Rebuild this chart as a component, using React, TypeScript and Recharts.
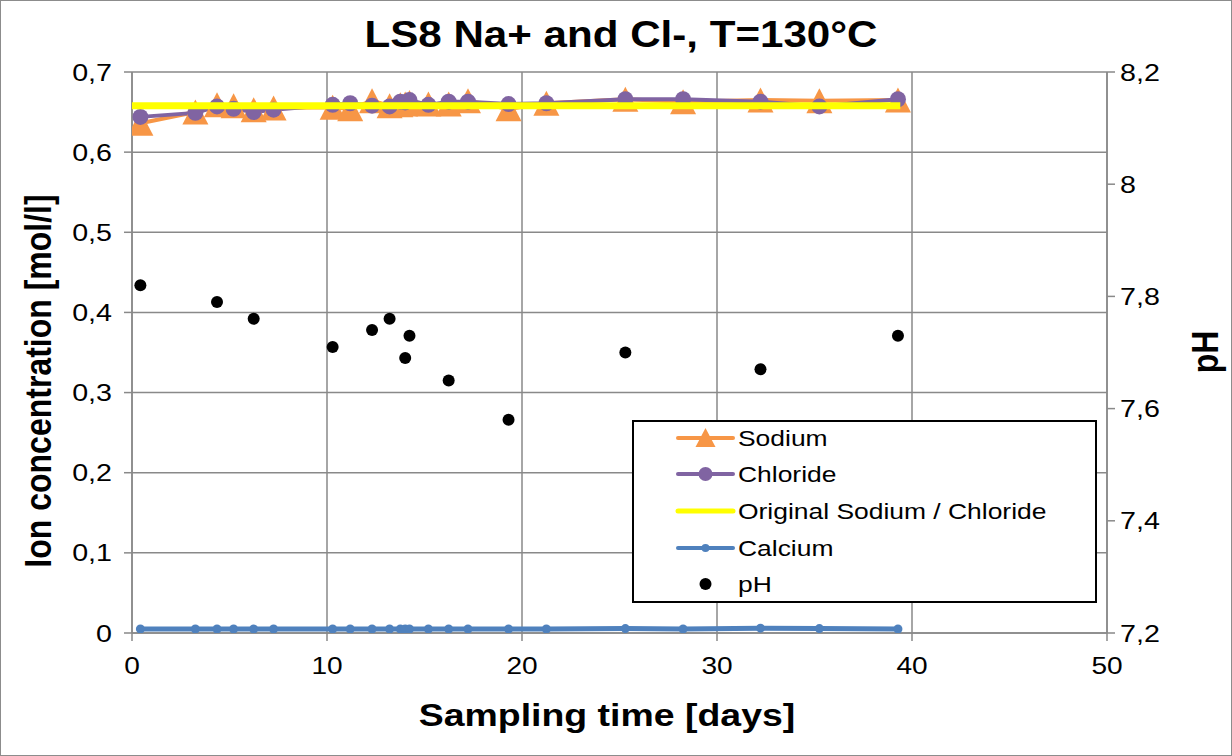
import React from 'react';
import { ComposedChart, Line, Scatter, XAxis, YAxis, CartesianGrid, Legend } from 'recharts';

const days = [0.43, 3.25, 4.36, 5.21, 6.24, 7.26, 10.29, 11.19, 12.31, 13.21, 13.76, 14.01, 14.23, 15.2, 16.24, 17.23, 19.31, 21.25, 25.3, 28.26, 32.23, 35.25, 39.28];
const sodium = [0.636, 0.65, 0.659, 0.658, 0.653, 0.655, 0.656, 0.654, 0.664, 0.658, 0.659, 0.66, 0.662, 0.66, 0.66, 0.664, 0.654, 0.661, 0.666, 0.663, 0.665, 0.664, 0.665];
const chloride = [0.644, 0.649, 0.657, 0.654, 0.65, 0.653, 0.659, 0.661, 0.658, 0.657, 0.663, 0.662, 0.665, 0.659, 0.663, 0.663, 0.66, 0.661, 0.666, 0.666, 0.663, 0.657, 0.666];
const calcium = [0.005, 0.005, 0.005, 0.005, 0.005, 0.005, 0.005, 0.005, 0.005, 0.005, 0.005, 0.005, 0.005, 0.005, 0.005, 0.005, 0.005, 0.005, 0.0055, 0.005, 0.006, 0.0055, 0.005];
const originalDays = [0, 39.4];
const originalValues = [0.658, 0.658];
const phDays = [0.43, 4.36, 6.24, 10.29, 12.31, 13.21, 14.01, 14.23, 16.24, 19.31, 25.3, 32.23, 39.28];
const phValues = [7.82, 7.79, 7.76, 7.71, 7.74, 7.76, 7.69, 7.73, 7.65, 7.58, 7.7, 7.67, 7.73];

const xTicks = [0, 10, 20, 30, 40, 50];
const leftTicks = [0, 0.1, 0.2, 0.3, 0.4, 0.5, 0.6, 0.7];
const rightTicks = [7.2, 7.4, 7.6, 7.8, 8, 8.2];

const title = 'LS8 Na+ and Cl-, T=130°C';
const xTitle = 'Sampling time [days]';
const yTitle = 'Ion concentration [mol/l]';
const y2Title = 'pH';

const seriesNames = ['Sodium', 'Chloride', 'Original Sodium / Chloride', 'Calcium', 'pH'];
const C_NA = '#F79646';
const C_CL = '#8064A2';
const C_OR = '#FFFF00';
const C_CA = '#4F81BD';
const C_PH = '#000000';
const GRID = '#898989';
const FONT = '"Liberation Sans", Arial, sans-serif';
const SX = 1.17;

const sodiumData = days.map((d, i) => ({ x: d, y: sodium[i] }));
const chlorideData = days.map((d, i) => ({ x: d, y: chloride[i] }));
const calciumData = days.map((d, i) => ({ x: d, y: calcium[i] }));
const originalData = originalDays.map((d, i) => ({ x: d, y: originalValues[i] }));
const phData = phDays.map((d, i) => ({ x: d, y: phValues[i] }));

const fmt = (v: number) => (Number.isInteger(v) ? String(v) : v.toFixed(1).replace('.', ','));

const XTick = (p: any) => (
  <text transform={`translate(${p.x},${p.y + 31}) scale(${SX},1)`} textAnchor="middle" fontSize={24} fontFamily={FONT} fill="#000">
    {fmt(p.payload.value)}
  </text>
);
const LTick = (p: any) => (
  <text transform={`translate(${p.x - 10},${p.y + 8.5}) scale(${SX},1)`} textAnchor="end" fontSize={24.5} fontFamily={FONT} fill="#000">
    {fmt(p.payload.value)}
  </text>
);
const RTick = (p: any) => (
  <text transform={`translate(${p.x + 3},${p.y + 8.5}) scale(${SX},1)`} textAnchor="start" fontSize={24.5} fontFamily={FONT} fill="#000">
    {fmt(p.payload.value)}
  </text>
);

const Tri = (p: any) => {
  const { cx, cy, index } = p;
  if (cx == null || cy == null) return <g key={`t${index}`} />;
  return <path key={`t${index}`} d={`M${cx},${cy - 12.5} L${cx + 13},${cy + 12.5} L${cx - 13},${cy + 12.5} Z`} fill={C_NA} />;
};
const ClDot = (p: any) => {
  const { cx, cy, index } = p;
  if (cx == null || cy == null) return <g key={`c${index}`} />;
  return <circle key={`c${index}`} cx={cx} cy={cy} r={8} fill={C_CL} />;
};
const CaDot = (p: any) => {
  const { cx, cy, index } = p;
  if (cx == null || cy == null) return <g key={`a${index}`} />;
  return <circle key={`a${index}`} cx={cx} cy={cy} r={4.5} fill={C_CA} />;
};
const PhShape = (p: any) => <circle cx={p.cx} cy={p.cy} r={6} fill={C_PH} />;

const LegendBox = () => {
  const rows = [18, 54, 91, 128, 164];
  return (
    <div style={{ width: 465, height: 183, border: '2px solid #000', boxSizing: 'border-box', background: '#fff' }}>
      <svg width={461} height={179} style={{ display: 'block' }}>
        {seriesNames.map((n, i) => {
          const y = rows[i] - 2;
          let icon: any = null;
          if (i === 0)
            icon = (
              <g>
                <line x1={44} x2={99} y1={y} y2={y} stroke={C_NA} strokeWidth={4} strokeLinecap="round" />
                <path d={`M${71.5},${y - 10} L${81.5},${y + 9} L${61.5},${y + 9} Z`} fill={C_NA} />
              </g>
            );
          if (i === 1)
            icon = (
              <g>
                <line x1={44} x2={99} y1={y} y2={y} stroke={C_CL} strokeWidth={4} strokeLinecap="round" />
                <circle cx={71.5} cy={y} r={7} fill={C_CL} />
              </g>
            );
          if (i === 2) icon = <line x1={44} x2={99} y1={y} y2={y} stroke={C_OR} strokeWidth={5} strokeLinecap="round" />;
          if (i === 3)
            icon = (
              <g>
                <line x1={44} x2={99} y1={y} y2={y} stroke={C_CA} strokeWidth={4} strokeLinecap="round" />
                <circle cx={71.5} cy={y} r={4} fill={C_CA} />
              </g>
            );
          if (i === 4) icon = <circle cx={71.5} cy={y} r={6} fill={C_PH} />;
          return (
            <g key={n}>
              {icon}
              <text transform={`translate(104,${y + 8}) scale(${SX},1)`} fontSize={22.6} fontFamily={FONT} fill="#000">
                {n}
              </text>
            </g>
          );
        })}
      </svg>
    </div>
  );
};

export default function App() {
  const extra: any = { zIndex: 900 };
  return (
    <div
      style={{
        position: 'absolute',
        left: 0,
        top: 0,
        width: 1232,
        height: 756,
        background: '#fff',
        fontFamily: FONT,
        overflow: 'hidden',
      }}
    >
      <ComposedChart width={1232} height={756} margin={{ top: 72, right: 55, bottom: 63, left: 62 }}>
        <CartesianGrid stroke={GRID} strokeWidth={1.5} horizontalValues={leftTicks} verticalValues={xTicks} />
        <XAxis
          type="number"
          dataKey="x"
          domain={[0, 50]}
          ticks={xTicks}
          allowDataOverflow
          height={60}
          tickSize={8}
          stroke={GRID}
          axisLine={{ stroke: GRID, strokeWidth: 1.5 }}
          tickLine={{ stroke: GRID, strokeWidth: 1.5 }}
          tick={<XTick />}
        />
        <YAxis
          type="number"
          domain={[0, 0.7]}
          ticks={leftTicks}
          allowDataOverflow
          width={70}
          tickSize={8}
          axisLine={{ stroke: GRID, strokeWidth: 1.5 }}
          tickLine={{ stroke: GRID, strokeWidth: 1.5 }}
          tick={<LTick />}
        />
        <YAxis
          yAxisId="right"
          orientation="right"
          type="number"
          domain={[7.2, 8.2]}
          ticks={rightTicks}
          allowDataOverflow
          width={70}
          tickSize={8}
          axisLine={{ stroke: GRID, strokeWidth: 1.5 }}
          tickLine={{ stroke: GRID, strokeWidth: 1.5 }}
          tick={<RTick />}
        />
        <Line data={sodiumData} dataKey="y" name={seriesNames[0]} stroke={C_NA} strokeWidth={4} dot={Tri} activeDot={false} isAnimationActive={false} />
        <Line data={chlorideData} dataKey="y" name={seriesNames[1]} stroke={C_CL} strokeWidth={4} dot={ClDot} activeDot={false} isAnimationActive={false} />
        <Line data={originalData} dataKey="y" name={seriesNames[2]} stroke={C_OR} strokeWidth={7} dot={false} activeDot={false} isAnimationActive={false} {...extra} />
        <Line data={calciumData} dataKey="y" name={seriesNames[3]} stroke={C_CA} strokeWidth={5} dot={CaDot} activeDot={false} isAnimationActive={false} />
        <Scatter data={phData} dataKey="y" yAxisId="right" name={seriesNames[4]} fill={C_PH} shape={PhShape} isAnimationActive={false} />
        <Legend
          layout="horizontal"
          verticalAlign="middle"
          align="center"
          content={() => <LegendBox />}
          wrapperStyle={{ position: 'absolute', left: 632, top: 420, width: 465, height: 183, margin: 0, padding: 0 }}
        />
      </ComposedChart>
      <div style={{ position: 'absolute', left: 0, top: 0, width: 1232, height: 756, border: '1.5px solid #8c8c8c', boxSizing: 'border-box', pointerEvents: 'none' }} />
      <div
        style={{
          position: 'absolute',
          left: 621,
          top: 35,
          transform: `translate(-50%,-50%) scaleX(${SX})`,
          fontSize: 36,
          fontWeight: 'bold',
          whiteSpace: 'nowrap',
          lineHeight: 1,
        }}
      >
        {title}
      </div>
      <div
        style={{
          position: 'absolute',
          left: 607,
          top: 715,
          transform: `translate(-50%,-50%) scaleX(${SX})`,
          fontSize: 32,
          fontWeight: 'bold',
          whiteSpace: 'nowrap',
          lineHeight: 1,
        }}
      >
        {xTitle}
      </div>
      <div
        style={{
          position: 'absolute',
          left: 38,
          top: 381,
          transform: `translate(-50%,-50%) scaleX(${SX}) rotate(-90deg)`,
          fontSize: 32,
          fontWeight: 'bold',
          whiteSpace: 'nowrap',
          lineHeight: 1,
        }}
      >
        {yTitle}
      </div>
      <div
        style={{
          position: 'absolute',
          left: 1205,
          top: 352,
          transform: `translate(-50%,-50%) scaleX(${SX}) rotate(-90deg)`,
          fontSize: 32,
          fontWeight: 'bold',
          whiteSpace: 'nowrap',
          lineHeight: 1,
        }}
      >
        {y2Title}
      </div>
    </div>
  );
}
